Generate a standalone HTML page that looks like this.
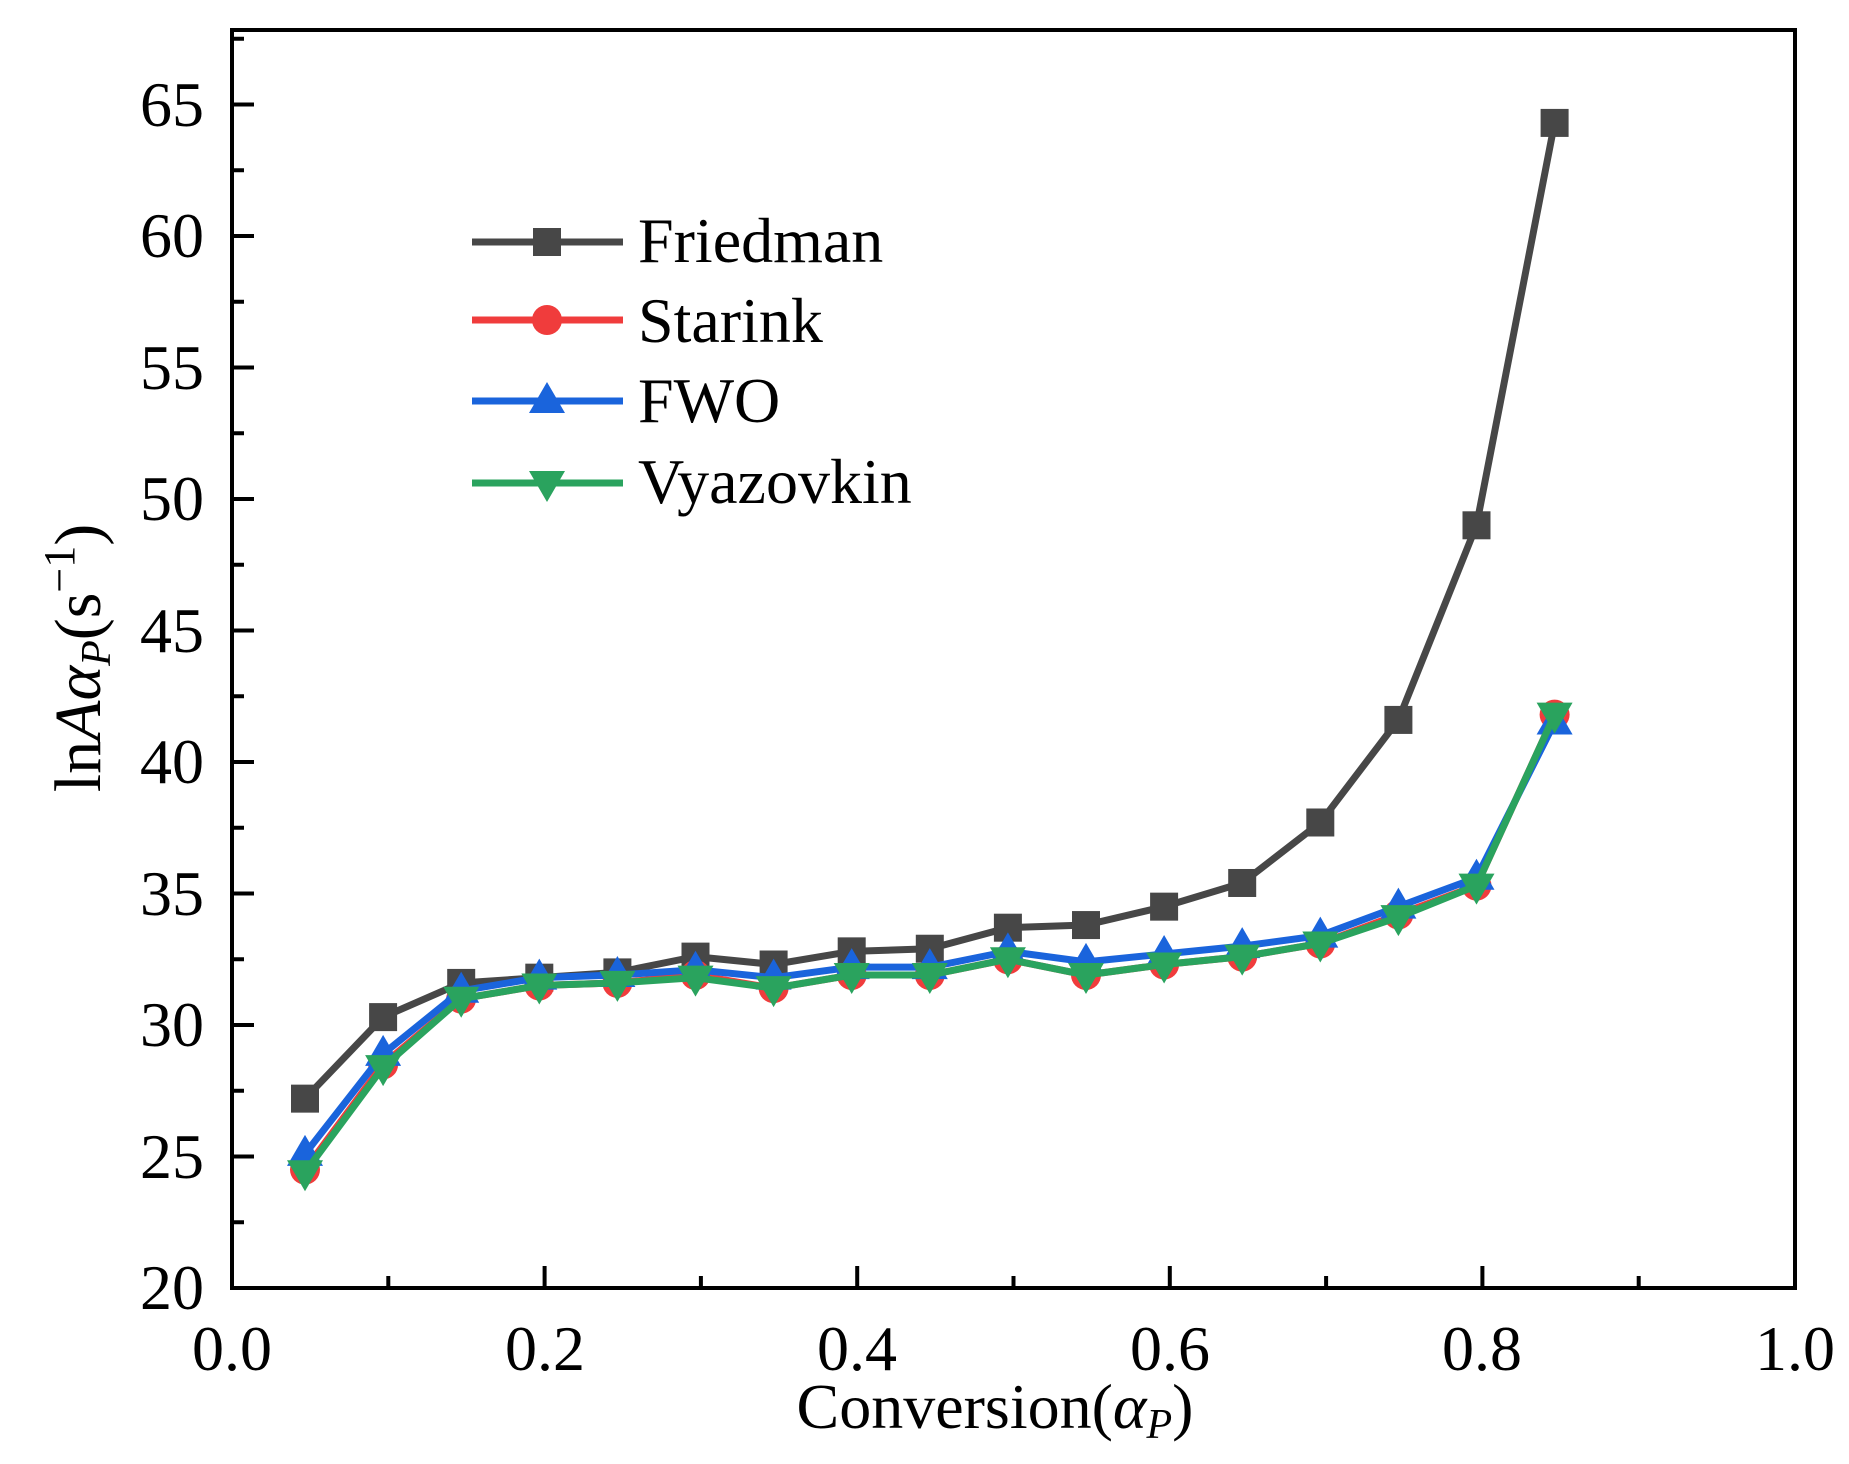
<!DOCTYPE html>
<html><head><meta charset="utf-8"><style>
html,body{margin:0;padding:0;background:#fff;}
svg text{font-family:"Liberation Serif",serif;fill:#000;}
</style></head><body>
<svg id="s" width="1849" height="1459" xmlns="http://www.w3.org/2000/svg">
<rect width="1849" height="1459" fill="#fff"/>
<g id="plot"></g>
<g font-size="64">
<text x="204" y="1309" text-anchor="end">20</text>
<text x="204" y="1178" text-anchor="end">25</text>
<text x="204" y="1046" text-anchor="end">30</text>
<text x="204" y="915" text-anchor="end">35</text>
<text x="204" y="783" text-anchor="end">40</text>
<text x="204" y="652" text-anchor="end">45</text>
<text x="204" y="520" text-anchor="end">50</text>
<text x="204" y="389" text-anchor="end">55</text>
<text x="204" y="257" text-anchor="end">60</text>
<text x="204" y="126" text-anchor="end">65</text>
<text x="232" y="1370" text-anchor="middle">0.0</text>
<text x="545" y="1370" text-anchor="middle">0.2</text>
<text x="857" y="1370" text-anchor="middle">0.4</text>
<text x="1170" y="1370" text-anchor="middle">0.6</text>
<text x="1482" y="1370" text-anchor="middle">0.8</text>
<text x="1795" y="1370" text-anchor="middle">1.0</text>
<text x="995" y="1428" text-anchor="middle">Conversion(<tspan font-style="italic">α</tspan><tspan font-style="italic" font-size="42" dy="10">P</tspan><tspan dy="-10">)</tspan></text>
<text transform="translate(100,658) rotate(-90)" text-anchor="middle" font-size="66">ln<tspan font-style="italic">Aα</tspan><tspan font-style="italic" font-size="42" dy="10">P</tspan><tspan dy="-10">(s</tspan><tspan font-size="44" dy="-26">−1</tspan><tspan dy="26">)</tspan></text>
<text x="638" y="262">Friedman</text>
<text x="638" y="342">Starink</text>
<text x="638" y="422">FWO</text>
<text x="638" y="503">Vyazovkin</text>
</g>
</svg>
<script>
const X0=232,X1=1795,Y0=1288,YT=30,ppu=26.3;
const xs=v=>X0+v*(X1-X0), ys=v=>Y0-(v-20)*ppu;
let h='';
h+=`<rect x="${X0}" y="${YT}" width="${X1-X0}" height="${Y0-YT}" fill="none" stroke="#000" stroke-width="4"/>`;
for(let i=0;i<=10;i++){const x=xs(i/10),l=i%2?12:22;h+=`<line x1="${x}" y1="${Y0}" x2="${x}" y2="${Y0-l}" stroke="#000" stroke-width="4"/>`;}
for(let v=20;v<=67.5;v+=2.5){const y=ys(v),l=(v%5)?12:22;h+=`<line x1="${X0}" y1="${y}" x2="${X0+l}" y2="${y}" stroke="#000" stroke-width="4"/>`;}
const F=[27.2,30.3,31.6,31.8,32.0,32.6,32.3,32.8,32.9,33.7,33.8,34.5,35.4,37.7,41.6,49.0,64.3];
const S=[24.5,28.5,31.0,31.5,31.6,31.9,31.4,31.9,31.9,32.5,31.9,32.3,32.6,33.1,34.2,35.3,41.8];
const W=[25.1,28.9,31.3,31.8,31.9,32.1,31.8,32.2,32.2,32.8,32.4,32.7,33.0,33.4,34.5,35.6,41.5];
const V=[24.4,28.4,31.0,31.5,31.6,31.8,31.4,31.9,31.9,32.5,31.9,32.3,32.6,33.1,34.1,35.3,41.8];
function mk(t,x,y,c){
 if(t=='s')return `<rect x="${x-14}" y="${y-14}" width="28" height="28" fill="${c}"/>`;
 if(t=='c')return `<circle cx="${x}" cy="${y}" r="15" fill="${c}"/>`;
 if(t=='u')return `<polygon points="${x},${y-19} ${x-18},${y+12} ${x+18},${y+12}" fill="${c}"/>`;
 return `<polygon points="${x},${y+19} ${x-18},${y-12} ${x+18},${y-12}" fill="${c}"/>`;
}
const ser=[[F,'#474747','s',242],[S,'#f03c3c','c',320],[W,'#1a64dc','u',401],[V,'#2aa35e','d',483]];
for(const [d,c,t,ly] of ser){
 const pts=d.map((v,i)=>[305+78.1*i,ys(v)]);
 h+=`<polyline points="${pts.map(p=>p.join(',')).join(' ')}" fill="none" stroke="${c}" stroke-width="7"/>`;
 pts.forEach(p=>h+=mk(t,p[0],p[1],c));
 h+=`<line x1="472" y1="${ly}" x2="623" y2="${ly}" stroke="${c}" stroke-width="7"/>`+mk(t,547,ly,c);
}
document.getElementById('plot').innerHTML=h;
</script>
</body></html>
